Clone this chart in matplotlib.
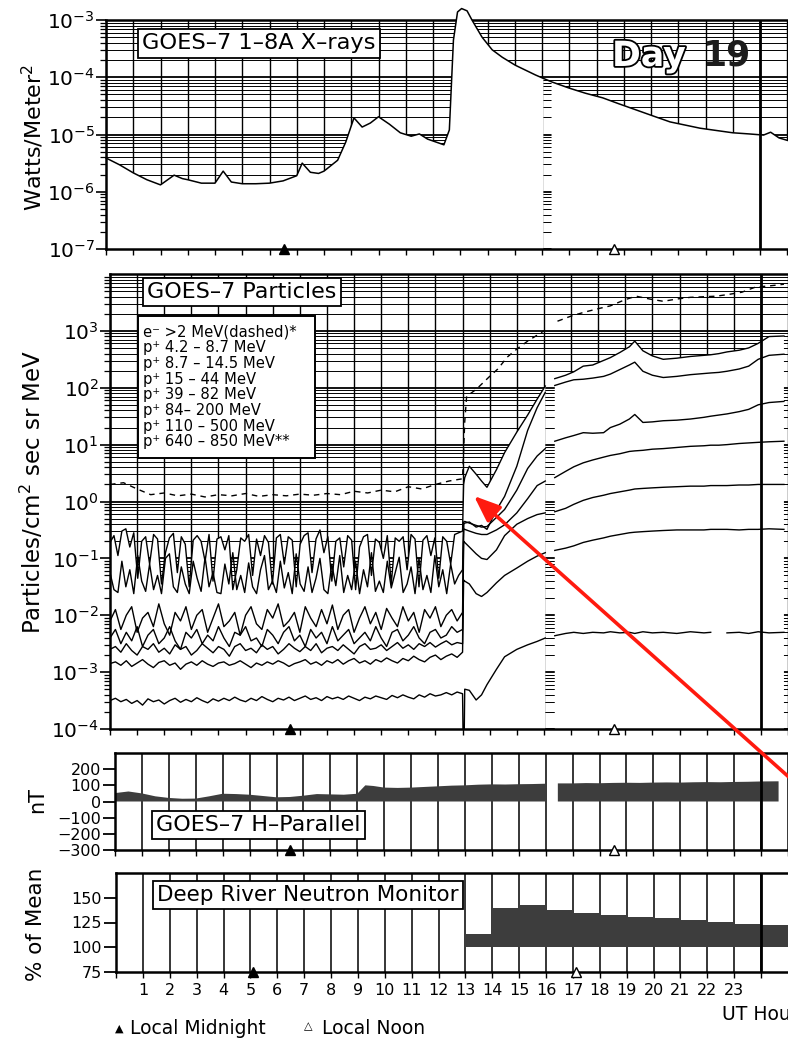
import numpy as np
import matplotlib
matplotlib.use("Agg")
import matplotlib.pyplot as plt
import matplotlib.patheffects as pe
import matplotlib.transforms as mtransforms
from matplotlib.ticker import LogLocator, NullFormatter
from matplotlib.patches import Rectangle, FancyArrowPatch

plt.rcParams['font.family'] = ['DejaVu Sans']
plt.rcParams['mathtext.fontset'] = 'dejavusans'

# ------------------------------------------------------------------ data
# GOES-7 1-8 A X-ray flux, log10(W/m^2) vs UT hour (NaN = data gap)
xray_hours = [0.0, 0.5, 1.0, 1.5, 2.0, 2.5, 2.8, 3.0, 3.5, 4.0, 4.3, 4.6, 5.0, 5.5,
              6.0, 6.5, 7.0, 7.2, 7.5, 7.8, 8.0, 8.5, 8.8, 9.1, 9.4, 9.7, 10.0, 10.4,
              10.8, 11.2, 11.5, 11.8, 12.1, 12.4, 12.6, 12.75, 12.9, 13.05, 13.25,
              13.43, 13.8, 14.17, 14.54, 15.02, 15.76, 16.05, 16.2, 16.35, 17.0, 17.6,
              18.23, 18.8, 19.45, 20.1, 20.7, 21.3, 21.8, 22.4, 23.0, 23.6, 24.13,
              24.39, 24.7, 25.2]
xray_log = [-5.41, -5.53, -5.67, -5.79, -5.88, -5.71, -5.77, -5.79, -5.85, -5.85, -5.64,
            -5.83, -5.86, -5.86, -5.85, -5.81, -5.72, -5.50, -5.66, -5.68, -5.64, -5.45,
            -5.13, -4.71, -4.87, -4.80, -4.69, -4.82, -4.97, -5.03, -4.99, -5.08, -5.13,
            -5.18, -4.92, -3.35, -2.86, -2.80, -2.84, -3.00, -3.30, -3.52, -3.65, -3.79,
            -3.96, -4.02, np.nan, -4.08, -4.19, -4.28, -4.36, -4.46, -4.57, -4.68, -4.78,
            -4.84, -4.89, -4.93, -4.97, -4.99, -5.01, -4.96, -5.06, -5.13]

# GOES-7 particle channels before the 13 UT onset, evenly sampled 0-13 UT, log10 flux
p_4_9_pre = [-0.72, -0.60, -0.95, -0.52, -0.48, -0.80, -0.55, -1.35, -0.70, -0.62,
             -1.10, -0.58, -0.66, -1.45, -0.90, -0.64, -0.56, -1.25, -0.62, -0.75,
             -1.50, -0.68, -0.60, -0.70, -1.05, -0.58, -1.40, -0.66, -0.62, -0.85,
             -0.60, -1.55, -1.20, -0.64, -0.70, -0.58, -1.30, -0.66, -0.95, -0.60,
             -0.72, -1.45, -0.64, -0.58, -1.10, -0.62, -0.68, -1.50, -0.75, -0.60,
             -0.55, -1.25, -0.66, -0.50, -0.90, -0.62, -1.40, -0.70, -0.64, -1.15,
             -0.60, -0.68, -1.55, -0.80, -0.62, -0.58, -1.30, -0.66, -0.72, -1.00,
             -0.60, -1.45, -0.64, -0.70, -0.62, -1.20, -0.58, -0.66, -1.50, -0.68,
             -0.60, -0.95, -0.64, -1.35, -0.62, -0.70, -1.10, -0.58, -0.55, -0.52]
p_9_15_pre = [-1.25, -1.55, -1.60, -1.05, -1.50, -1.20, -1.62, -0.95, -1.40, -1.58,
              -1.10, -1.55, -1.30, -1.62, -1.00, -0.92, -1.50, -1.60, -1.15, -1.45,
              -1.62, -1.05, -1.35, -1.58, -0.98, -1.50, -1.25, -1.60, -1.62, -1.10,
              -1.45, -0.90, -1.55, -1.30, -1.60, -1.08, -1.50, -1.62, -1.20, -0.95,
              -1.55, -1.40, -1.60, -1.05, -1.52, -1.25, -1.62, -0.92, -1.45, -1.58,
              -1.15, -1.60, -1.35, -1.00, -1.55, -1.62, -1.10, -1.48, -0.95, -1.60,
              -1.30, -1.55, -1.05, -1.62, -1.20, -1.50, -0.90, -1.58, -1.40, -1.60,
              -1.05, -1.52, -1.25, -0.98, -1.60, -1.45, -1.15, -1.62, -1.00, -1.55,
              -1.30, -1.60, -0.95, -1.50, -1.20, -1.62, -1.10, -1.45, -1.30, -1.20]
p_15_44_pre = [-2.10, -1.90, -2.25, -2.00, -1.85, -2.30, -2.05, -1.95, -2.20, -1.80, -2.15,
               -2.35, -1.95, -2.10, -1.85, -2.25, -2.00, -1.90, -2.30, -2.05, -1.80, -2.20,
               -2.10, -1.95, -2.35, -2.00, -1.85, -2.15, -2.25, -1.90, -2.05, -1.80, -2.20,
               -2.10, -1.95, -2.30, -1.85, -2.05, -2.20, -1.90, -2.15, -1.82, -2.25, -2.00,
               -1.90, -2.30, -2.05, -1.85, -2.15, -1.95, -2.25, -1.88, -2.05, -2.20, -1.85,
               -2.10, -1.95, -2.30, -1.90, -2.05, -1.85, -2.20, -2.00, -1.90, -2.10, -1.95]
p_39_82_pre = [-2.40, -2.25, -2.50, -2.30, -2.45, -2.20, -2.55, -2.35, -2.25, -2.50, -2.40,
               -2.20, -2.45, -2.60, -2.30, -2.40, -2.25, -2.50, -2.35, -2.45, -2.20, -2.40,
               -2.55, -2.30, -2.35, -2.20, -2.45, -2.40, -2.55, -2.25, -2.35, -2.50, -2.30,
               -2.20, -2.45, -2.35, -2.55, -2.25, -2.40, -2.30, -2.50, -2.20, -2.45, -2.35,
               -2.25, -2.50, -2.40, -2.30, -2.45, -2.20, -2.40, -2.55, -2.30, -2.25, -2.45,
               -2.35, -2.20, -2.40, -2.50, -2.30, -2.25, -2.40, -2.35, -2.20, -2.30, -2.25]
p_84_200_pre = [-2.60, -2.55, -2.65, -2.50, -2.62, -2.70, -2.55, -2.60, -2.50, -2.65, -2.58,
                -2.68, -2.52, -2.60, -2.55, -2.70, -2.62, -2.50, -2.58, -2.66, -2.55, -2.60,
                -2.72, -2.55, -2.50, -2.62, -2.58, -2.66, -2.52, -2.60, -2.55, -2.68, -2.60,
                -2.50, -2.58, -2.64, -2.55, -2.62, -2.50, -2.66, -2.58, -2.55, -2.62, -2.52,
                -2.60, -2.68, -2.55, -2.50, -2.60, -2.58, -2.52, -2.62, -2.55, -2.48, -2.58,
                -2.52, -2.60, -2.50, -2.55, -2.48, -2.56, -2.50, -2.45, -2.52, -2.48, -2.50]
p_110_500_pre = [-2.85, -2.82, -2.88, -2.80, -2.90, -2.84, -2.78, -2.86, -2.92, -2.83, -2.80,
                 -2.88, -2.84, -2.95, -2.86, -2.82, -2.88, -2.80, -2.86, -2.90, -2.84, -2.82,
                 -2.88, -2.85, -2.80, -2.86, -2.92, -2.84, -2.88, -2.82, -2.86, -2.80, -2.84,
                 -2.90, -2.85, -2.82, -2.78, -2.86, -2.82, -2.88, -2.80, -2.84, -2.78, -2.86,
                 -2.80, -2.76, -2.84, -2.80, -2.86, -2.78, -2.82, -2.75, -2.80, -2.84, -2.76,
                 -2.80, -2.72, -2.78, -2.82, -2.74, -2.70, -2.78, -2.72, -2.68, -2.74, -2.65]
p_640_850_pre = [-3.50, -3.46, -3.52, -3.48, -3.55, -3.50, -3.58, -3.47, -3.52, -3.49, -3.56,
                 -3.50, -3.46, -3.53, -3.48, -3.52, -3.45, -3.50, -3.54, -3.47, -3.51, -3.46,
                 -3.50, -3.44, -3.49, -3.52, -3.46, -3.50, -3.43, -3.48, -3.52, -3.46, -3.49,
                 -3.44, -3.50, -3.46, -3.42, -3.48, -3.45, -3.50, -3.43, -3.47, -3.44, -3.48,
                 -3.42, -3.46, -3.50, -3.44, -3.47, -3.42, -3.45, -3.48, -3.41, -3.45, -3.40,
                 -3.44, -3.47, -3.40, -3.44, -3.38, -3.42, -3.40, -3.36, -3.40, -3.35, -3.38]

# after the onset: shared UT time base, log10 flux (NaN = data gap)
post_hours = [13.04, 13.08, 13.25, 13.5, 13.7, 13.9, 14.25, 14.55, 15.0, 15.4, 15.75, 16.05,
              16.2, 16.4, 16.8, 17.1, 17.45, 17.8, 18.2, 18.45, 18.8, 19.15, 19.35, 19.65,
              20.0, 20.4, 20.9, 21.4, 21.9, 22.15, 22.45, 22.75, 23.2, 23.55, 23.9, 24.3, 24.85]
p_4_9_post = [0.30, 0.42, 0.62, 0.48, 0.36, 0.25, 0.56, 0.86, 1.22, 1.52, 1.80, 2.03, np.nan,
              2.16, 2.22, 2.28, 2.38, 2.40, 2.48, 2.53, 2.62, 2.72, 2.82, 2.65, 2.56, 2.50,
              2.52, 2.55, 2.57, 2.58, 2.60, 2.63, 2.66, 2.70, 2.78, 2.90, 2.91]
p_9_15_post = [-0.40, -0.38, -0.36, -0.45, -0.42, -0.49, -0.15, 0.09, 0.62, 1.25, 1.65, 1.92,
               np.nan, 2.04, 2.10, 2.14, 2.15, 2.17, 2.20, 2.24, 2.32, 2.40, 2.45, 2.29, 2.22,
               2.18, 2.20, 2.23, 2.25, 2.26, 2.27, 2.29, 2.33, 2.38, 2.50, 2.57, 2.59]
p_15_44_post = [-0.36, -0.35, -0.38, -0.42, -0.45, -0.44, -0.28, -0.14, 0.20, 0.58, 0.80, 0.93,
                np.nan, 1.06, 1.12, 1.16, 1.21, 1.20, 1.21, 1.30, 1.36, 1.45, 1.53, 1.39, 1.40,
                1.42, 1.43, 1.45, 1.48, 1.50, 1.52, 1.54, 1.58, 1.62, 1.70, 1.74, 1.76]
p_39_82_post = [-0.48, -0.49, -0.52, -0.56, -0.58, -0.58, -0.50, -0.41, -0.20, 0.05, 0.28, 0.36,
                np.nan, 0.42, 0.53, 0.61, 0.68, 0.73, 0.78, 0.81, 0.84, 0.88, 0.89, 0.90, 0.92,
                0.93, 0.95, 0.97, 0.98, 0.99, 0.99, 1.00, 1.02, 1.03, 1.04, 1.05, 1.06]
p_84_200_post = [-0.70, -0.72, -0.80, -0.92, -1.00, -1.02, -0.85, -0.60, -0.40, -0.30, -0.23,
                 -0.20, np.nan, -0.18, -0.12, -0.05, 0.02, 0.07, 0.11, 0.14, 0.17, 0.20, 0.22,
                 0.23, 0.24, 0.25, 0.26, 0.27, 0.27, 0.28, 0.28, 0.28, 0.29, 0.29, 0.30, 0.30, 0.30]
p_110_500_post = [-1.38, -1.40, -1.45, -1.62, -1.67, -1.60, -1.43, -1.30, -1.17, -1.05, -0.96,
                  -0.90, np.nan, -0.86, -0.82, -0.78, -0.72, -0.68, -0.64, -0.61, -0.58, -0.55,
                  -0.54, -0.53, -0.52, -0.51, -0.50, -0.50, -0.50, -0.49, -0.49, -0.49, -0.50,
                  -0.49, -0.49, -0.48, -0.49]
p_640_850_post = [-5.0, -3.30, -3.32, -3.49, -3.40, -3.22, -2.95, -2.73, -2.60, -2.52, -2.46,
                  -2.40, np.nan, -2.36, -2.32, -2.30, -2.32, -2.30, -2.31, -2.29, -2.31, -2.30,
                  -2.32, -2.29, -2.31, -2.30, -2.32, -2.29, -2.31, -2.30, np.nan, -2.31, -2.30,
                  -2.32, -2.29, -2.31, -2.30]

# >2 MeV electrons (dashed): half-hourly before onset, then irregular samples
e_pre = [0.30, 0.33, 0.22, 0.12, 0.15, 0.10, 0.13, 0.08, 0.12, 0.10, 0.14, 0.09, 0.12, 0.10,
         0.13, 0.11, 0.14, 0.12, 0.18, 0.15, 0.20, 0.17, 0.26, 0.22, 0.30, 0.36, 0.40]
e_post_hours = [13.08, 13.15, 13.5, 14.0, 14.3, 14.65, 15.0, 15.4, 16.0, 16.2, 16.5, 17.0, 17.5,
                18.0, 18.45, 19.0, 19.4, 19.9, 20.4, 20.9, 21.4, 21.9, 22.35, 22.8, 23.3,
                23.8, 24.3, 24.85]
e_post = [1.40, 1.85, 1.97, 2.20, 2.33, 2.54, 2.68, 2.82, 3.00, np.nan, 3.17, 3.26, 3.33, 3.39,
          3.44, 3.55, 3.61, 3.56, 3.52, 3.56, 3.59, 3.60, 3.61, 3.64, 3.68, 3.77, 3.79, 3.82]

# GOES-7 H-parallel magnetic field (nT)
hp_hours = [0, 0.5, 1, 1.5, 2, 2.5, 3, 3.5, 4, 4.5, 5, 5.5, 6, 6.5, 7, 7.5, 8, 8.5, 9, 9.3,
            9.6, 10, 10.5, 11, 11.5, 12, 12.5, 13, 13.5, 14, 14.5, 15, 15.5, 16.0, 16.2,
            16.45, 17, 17.5, 18, 18.5, 19, 19.5, 20, 20.5, 21, 21.5, 22, 22.5, 23, 23.5, 24,
            24.65]
hp_nT = [52, 62, 50, 32, 22, 17, 18, 32, 48, 46, 42, 34, 26, 28, 36, 46, 44, 42, 48, 100, 96,
         86, 84, 86, 90, 94, 98, 100, 104, 106, 105, 107, 108, 110, np.nan, 112, 112, 114, 113,
         115, 116, 115, 117, 118, 117, 119, 120, 119, 121, 122, 124, 125]

# Deep River neutron monitor, hourly values (% of mean), hour = start of bin
nm_hours = [13, 14, 15, 16, 17, 18, 19, 20, 21, 22, 23, 24]
nm_pct = [113, 140, 143, 138, 135, 133, 131, 130, 128, 125, 123, 122]

# local midnight / local noon markers (UT hour) for each panel
midnight_ut = [6.55, 6.65, 6.5, 5.1]
noon_ut = [18.65, 18.6, 18.55, 17.1]

xray_ticks = [1e-7, 1e-6, 1e-5, 1e-4, 1e-3]
xray_ticklabels = ['$10^{-7}$', '$10^{-6}$', '$10^{-5}$', '$10^{-4}$', '$10^{-3}$']
part_ticks = [1e-4, 1e-3, 1e-2, 1e-1, 1e0, 1e1, 1e2, 1e3]
part_ticklabels = ['$10^{-4}$', '$10^{-3}$', '$10^{-2}$', '$10^{-1}$', '$10^{0}$',
                   '$10^{1}$', '$10^{2}$', '$10^{3}$']
hp_ticks = [-300, -200, -100, 0, 100, 200]
hp_ticklabels = ['\u2212300', '\u2212200', '\u2212100', '0', '100', '200']
nm_ticks = [75, 100, 125, 150]
hour_labels = [str(h) for h in range(1, 24)]

legend_lines = ['e\u207b >2 MeV(dashed)*', 'p\u207a 4.2 \u2013 8.7 MeV',
                'p\u207a 8.7 \u2013 14.5 MeV', 'p\u207a 15 \u2013 44 MeV',
                'p\u207a 39 \u2013 82 MeV', 'p\u207a 84\u2013 200 MeV',
                'p\u207a 110 \u2013 500 MeV', 'p\u207a 640 \u2013 850 MeV**']

# ------------------------------------------------------------------ layout
W, H = 788, 1043
PPH = 27.25          # pixels per UT hour
fig = plt.figure(figsize=(W / 100, H / 100), dpi=100)
fig.patch.set_facecolor('white')


def fx(px):
    return px / W


def fy(py):
    return 1 - py / H


def panel(left, top, bottom):
    ax = fig.add_axes([fx(left), fy(bottom), (W - left) / W, (bottom - top) / H])
    ax.set_xlim(0, (W - left) / PPH)
    ax.set_xticks(np.arange(0, 26))
    ax.tick_params(axis='x', which='major', direction='out', length=4, width=1.0,
                   labelbottom=False)
    ax.spines['right'].set_visible(False)
    for s in ('left', 'bottom', 'top'):
        ax.spines[s].set_linewidth(1.8)
        ax.spines[s].set_zorder(6)
    ax.set_axisbelow(True)
    ax.axvline(24, color='black', lw=2.0, zorder=4)
    ax.set_facecolor('white')
    return ax


def log_grid(ax, lo, hi, ticks, labels):
    ax.set_yscale('log')
    ax.set_ylim(lo, hi)
    ax.set_yticks(ticks, labels=labels)
    ax.yaxis.set_minor_locator(LogLocator(base=10, subs=np.arange(2, 10), numticks=60))
    ax.yaxis.set_minor_formatter(NullFormatter())
    ax.grid(axis='y', which='minor', color='black', lw=0.7)
    ax.grid(axis='y', which='major', color='black', lw=1.3)
    ax.grid(axis='x', which='major', color='black', lw=1.0)
    ax.tick_params(axis='y', which='major', direction='out', length=7, width=1.2,
                   labelsize=14.5, pad=1)
    ax.tick_params(axis='y', which='minor', direction='out', length=4.5, width=0.9)


def lin_grid(ax, lo, hi, ticks, labels, step):
    ax.set_ylim(lo, hi)
    ax.set_yticks(ticks, labels=labels)
    ax.set_yticks(np.arange(lo, hi + 1, step), minor=True)
    ax.grid(axis='y', which='minor', color='black', lw=1.1)
    ax.grid(axis='x', which='major', color='black', lw=1.1)
    ax.tick_params(axis='y', which='major', direction='out', length=9, width=1.3,
                   labelsize=11.5, pad=1)
    ax.tick_params(axis='y', which='minor', length=0)


def local_time_marks(ax, midnight, noon):
    tr = mtransforms.blended_transform_factory(ax.transData, ax.transAxes)
    ax.plot([midnight], [0.0], marker='^', ms=7, mfc='black', mec='black', mew=1.0,
            transform=tr, clip_on=False, zorder=8)
    ax.plot([noon], [0.0], marker='^', ms=7, mfc='white', mec='black', mew=1.0,
            transform=tr, clip_on=False, zorder=8)


# ---- X-rays
ax1 = panel(106, 20, 249)
log_grid(ax1, 1e-7, 1e-3, xray_ticks, xray_ticklabels)
ax1.spines['top'].set_zorder(1.5)
xh = np.array(xray_hours)
xr = 10 ** np.array(xray_log)
ok = np.isfinite(xr)
# white under the curve; the gap in the data lets the grid show through
ax1.fill_between(xh, 1e-7, xr, color='white', lw=0, zorder=2, clip_on=False)
ax1.plot(xh[ok], xr[ok], color='black', lw=1.1, zorder=3, clip_on=False)
local_time_marks(ax1, midnight_ut[0], noon_ut[0])

# ---- particles
ax2 = panel(110, 274, 729)
log_grid(ax2, 1e-4, 1e4, part_ticks, part_ticklabels)


def full_series(pre, post):
    t = np.concatenate([np.linspace(0, 13, len(pre)), post_hours])
    return t, 10 ** np.concatenate([pre, post])


channels = [(p_4_9_pre, p_4_9_post), (p_9_15_pre, p_9_15_post),
            (p_15_44_pre, p_15_44_post), (p_39_82_pre, p_39_82_post),
            (p_84_200_pre, p_84_200_post), (p_110_500_pre, p_110_500_post),
            (p_640_850_pre, p_640_850_post)]
t_top, v_top = full_series(*channels[0])
ax2.fill_between(t_top, 1e-4, v_top, color='white', lw=0, zorder=2)
for pre, post in channels:
    t, v = full_series(pre, post)
    ax2.plot(t, v, color='black', lw=1.0, zorder=3)

t_e = np.concatenate([np.linspace(0, 13, len(e_pre)), e_post_hours])
v_e = 10 ** np.concatenate([e_pre, e_post])
ax2.plot(t_e, v_e, color='black', lw=1.0, ls=(0, (4, 3.5)), zorder=3)
local_time_marks(ax2, midnight_ut[1], noon_ut[1])

# ---- H-parallel
ax3 = panel(115, 753, 850)
lin_grid(ax3, -300, 300, hp_ticks, hp_ticklabels, 100)
ax3.fill_between(hp_hours, 0, hp_nT, color='#3d3d3d', lw=0, zorder=2)
local_time_marks(ax3, midnight_ut[2], noon_ut[2])

# ---- neutron monitor
ax4 = panel(116, 873, 972)
lin_grid(ax4, 75, 175, nm_ticks, [str(v) for v in nm_ticks], 25)
nm_edges = nm_hours + [nm_hours[-1] + 1]
nm_vals = nm_pct + [nm_pct[-1]]
ax4.fill_between(nm_edges, 100, nm_vals, step='post', color='#3d3d3d', lw=0, zorder=2)
ax4.set_xticks(np.arange(0, 25), labels=[''] + hour_labels + [''])
ax4.tick_params(axis='x', labelbottom=True, labelsize=11.5, pad=4)
local_time_marks(ax4, midnight_ut[3], noon_ut[3])

# ---- titles and labels
box = dict(boxstyle='square,pad=0.2', fc='white', ec='black', lw=1.3)
fig.text(fx(142), fy(43), 'GOES\u20137 1\u20138A X\u2013rays', fontsize=16.2, va='center',
         ha='left', bbox=box, zorder=5)
fig.text(fx(147), fy(292), 'GOES\u20137 Particles', fontsize=16, va='center', ha='left',
         bbox=box, zorder=5)
fig.text(fx(156), fy(825), 'GOES\u20137 H\u2013Parallel', fontsize=16, va='center', ha='left',
         bbox=box, zorder=5)
fig.text(fx(157), fy(895), 'Deep River Neutron Monitor', fontsize=15.5, va='center',
         ha='left', bbox=box, zorder=5)

fig.add_artist(Rectangle((fx(138), fy(458)), fx(315) - fx(138), fy(316) - fy(458),
                         transform=fig.transFigure, fc='white', ec='black', lw=1.4, zorder=5))
for i, line in enumerate(legend_lines):
    fig.text(fx(143), fy(332 + i * 15.7), line, fontsize=10.6, va='center', ha='left',
             zorder=6)

fig.text(fx(612), fy(66), 'Day', fontsize=25, fontweight='bold', color='white',
         va='baseline', ha='left', zorder=6,
         path_effects=[pe.withStroke(linewidth=2.6, foreground='black')])
fig.text(fx(702), fy(66), '19', fontsize=25, fontweight='bold', color='#1c1c1c',
         va='baseline', ha='left', zorder=6)

fig.text(fx(33), fy(137), 'Watts/Meter$^2$', rotation=90, fontsize=16, ha='center',
         va='center')
fig.text(fx(32), fy(492), 'Particles/cm$^2$ sec sr MeV', rotation=90, fontsize=16.5,
         ha='center', va='center')
fig.text(fx(37), fy(800), 'nT', rotation=90, fontsize=15, ha='center', va='center')
fig.text(fx(36), fy(924), '% of Mean', rotation=90, fontsize=15.5, ha='center',
         va='center')

fig.text(fx(722), fy(1015), 'UT Hours', fontsize=13.5, ha='left', va='center')
fig.text(fx(115), fy(1029), '\u25B2', fontsize=8, ha='left', va='center')
fig.text(fx(130), fy(1028), 'Local Midnight', fontsize=13.5, ha='left', va='center')
fig.text(fx(304), fy(1026), '\u25B3', fontsize=8, ha='left', va='center')
fig.text(fx(322), fy(1028), 'Local Noon', fontsize=13.5, ha='left', va='center')

# ---- pointer to the onset
fig.add_artist(FancyArrowPatch(posA=(fx(800), fy(787)), posB=(fx(474), fy(496)),
                               transform=fig.transFigure,
                               arrowstyle='-|>,head_length=0.8,head_width=0.32',
                               mutation_scale=20, color='#ff1a0f', lw=2.6,
                               shrinkA=0, shrinkB=0, zorder=20))

fig.savefig('out.png', dpi=100, facecolor='white')
